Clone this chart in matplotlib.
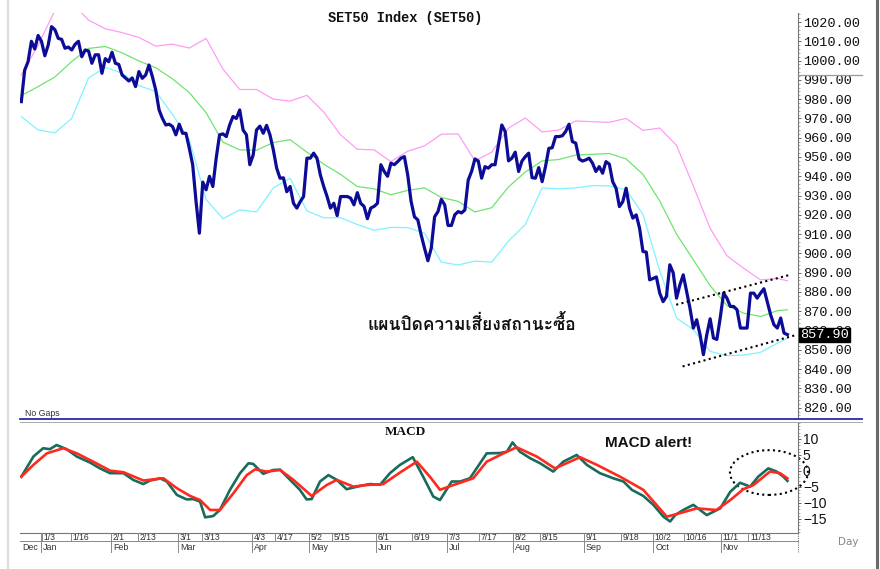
import numpy as np
import matplotlib
matplotlib.use("Agg")
import matplotlib.pyplot as plt
from matplotlib.lines import Line2D
from matplotlib.patches import Ellipse
from matplotlib.ticker import MultipleLocator, FormatStrFormatter
from matplotlib import font_manager as fm
from matplotlib.ft2font import FT2Font

# ---------------- data ----------------
price = [
    978.7, 995, 999.4, 1010, 1006, 1013, 1010, 1002.5, 1008, 1017.6, 1016, 1011.5, 1011, 1006.4, 1007,
    1005.5, 1008.4, 1010, 1002, 1005.5, 1005, 998.6, 1003, 1003, 993.4, 1001, 999.4, 1004.3, 998.6, 998,
    992.5, 991, 989.4, 991, 986.5, 994.3, 990.8, 992.5, 997.7, 991.7, 984.8, 974.4, 970, 966.6, 967,
    965.8, 961.5, 967, 962.3, 962.3, 954.5, 946, 927, 910.5, 937, 933, 940, 934.7,
    949.4, 961.5, 962, 960.6, 966.6, 971, 970, 974.4, 964, 961.5, 946, 951, 964, 966, 962.3,
    966.4, 961.5, 953.7, 944.2, 939, 939.2, 932, 934.7, 926, 923.5, 926.8, 929.5, 949.4, 949.4, 952,
    949.4, 940.7, 934.7, 929.5, 923.5, 926, 919.6, 929.5, 929.5, 929.5, 928.7, 925.2, 931.5, 926, 924.4,
    918, 923.5, 924.4, 926, 946, 942.5, 940, 946.8, 946, 947.6, 949.4, 950.2,
    940.7, 927, 919, 917.4, 909.6, 902.7, 896.2, 902.7, 919, 921.7, 928, 925.2, 914.5, 914.5, 920,
    921.7, 921, 922.5, 938, 942.5, 949, 947.9, 939, 945, 944.2, 946, 946, 956.3, 966.6, 963.2,
    948, 949.4, 952.5, 942.5, 947.9, 950.2, 952, 939.3, 939, 944.5, 937.2, 945, 954.5, 954.8, 960.6,
    960.6, 961, 963.2, 967, 958, 957.2, 949, 947.9, 948.5, 949.4,
    946.8, 942.5, 945, 941.6, 947.6, 946.3, 937.2, 933.8, 924.3, 926.8, 933.8, 923.5, 918.3, 920, 913.1,
    901, 900.7, 886.3, 887, 887.8, 879.4, 875, 877.7, 894.1, 890, 876.8, 883.7, 888.9, 880.3, 871.6,
    861.3, 865.6, 857.8, 847.5, 857.8, 866.1, 856.1, 855.4, 866.5, 879.4, 876.8, 872.5, 872.5, 870.8, 861.3,
    861.3, 861.3, 879.4, 879.4, 876.8, 879.4, 881.7, 875, 868.2, 863, 861.3, 866.5, 858.7, 857.9,
]

# Bollinger bands read every 5 sessions (plus the last session)
band_step = 5
upper_band = [992.5, 1008, 1026, 1030, 1021, 1016.5, 1014.5, 1012, 1007.5, 1008.5, 1006.5, 1011.5, 995.6,
              985, 985, 980, 979, 982, 973.3, 961.5, 954, 953.7, 947.6, 953, 955.8, 961.8, 962, 948,
              952.5, 965, 970.2, 963, 964, 968.7, 968.3, 968, 970, 963.8, 965, 956, 935, 913, 898.8,
              892.3, 886.3, 887, 885.8]
middle_band = [981.8, 986.5, 991.5, 999.5, 1006.3, 1007.3, 1004, 999.8, 996.3, 990.5, 983.4, 973, 957.7,
               953.7, 953.5, 957.5, 959, 952.5, 946.3, 941, 934.7, 933.5, 930.4, 932.7, 934, 929, 927,
               921.5, 923.7, 934.5, 942.2, 948, 948.7, 951, 951.4, 951.8, 949, 941, 927.2, 910, 896.7,
               883.3, 873, 869, 867.3, 870.3, 870.8]
lower_band = [971, 964, 962.5, 970, 991, 996.5, 993.5, 987, 984, 972, 959, 928, 918, 922.6, 921.5, 934,
              939, 922, 918.5, 918.5, 915, 912, 913.5, 913.4, 910.5, 895.5, 894, 896, 895.5, 906.4, 915,
              934, 933.5, 934, 935.2, 935, 933, 920.3, 891, 866.5, 860.5, 849.2, 847, 847.3, 848.7,
              853.5, 856]

# MACD (session index, value) read at the turning points of each line
macd_x = [0, 3.6, 6.5, 8.5, 10.5, 13.5, 16.5, 20.5, 23.4, 26.4, 30.4, 33.3, 36.3, 38.3, 41.3, 43.3,
          46.3, 49.2, 51.2, 53.2, 54.7, 57.1, 59.1, 62.1, 65.1, 67.6, 69.0, 72.0, 75.0, 77.0, 80.0,
          82.9, 84.9, 86.4, 88.9, 91.4, 93.9, 96.8, 100.8, 103.8, 106.8, 109.7, 112.7, 116.5, 119.6,
          122.6, 124.6, 128.1, 130.6, 133.5, 135.5, 138.5, 142.5, 144.5, 146.2, 148.4, 151.4, 154.4,
          158.3, 161.3, 165.3, 168.3, 172.2, 176.2, 179.2, 181.7, 185.1, 188.1, 191.1, 193.1, 194.6,
          197.0, 200.0, 202.0, 204.0, 208.0, 211.0, 213.9, 216.9, 219.3, 222.3, 224.8, 226.8, 228]
macd_line = [-1.8, 4.5, 7.1, 6.8, 8.1, 6.8, 4.5, 2.6, 0.8, -0.7, -0.7, -2.8, -4.1, -3.0, -2.3, -3.3,
             -7.5, -8.9, -8.8, -9.6, -14.5, -14.1, -12.2, -5.9, -0.7, 2.4, 2.2, -0.9, 0.3, 0.4, -2.8,
             -5.9, -8.9, -8.8, -3.3, -1.3, -2.8, -5.7, -4.7, -4.1, -4.3, -0.7, 1.9, 4.3, -1.8,
             -8.0, -9.1, -3.3, -3.3, -2.3, 0.8, 5.5, 5.6, 6.0, 8.9, 6.0, 4.0, 2.4,
             -0.2, 2.9, 5.0, 1.9, -0.7, -2.3, -3.3, -5.9, -7.8, -10.6, -14.3, -15.8, -13.8,
             -12.2, -10.6, -12.2, -13.8, -11.7, -6.5, -3.7, -4.9, -1.8, 0.8, -0.2, -1.8, -3.1]
signal_x = [0, 3.6, 7.6, 12.5, 16.5, 21.4, 26.4, 30.4, 36.3, 42.3, 46.3, 50.2, 53.2, 56.2, 59.1, 63.1,
            67.1, 69.6, 73.0, 77.0, 81.0, 86.4, 90.9, 93.9, 98.8, 102.8, 107.7, 112.7, 117.7, 121.6,
            124.6, 128.6, 134.5, 138.5, 143.5, 147.4, 153.4, 158.8, 166.3, 171.3, 178.2, 185.1, 192.1,
            196.0, 201.0, 206.9, 211.0, 214.9, 217.9, 222.8, 225.8, 228]
signal_line = [-1.8, 1.9, 5.5, 7.1, 5.5, 2.9, 0.1, -0.4, -3.0, -2.3, -5.4, -7.8, -9.1, -12.2, -12.2, -7.0,
               -1.3, 0.5, -0.2, 0.3, -2.8, -7.8, -4.4, -2.8, -4.9, -4.4, -4.1, -0.5, 2.9, -1.8,
               -5.9, -4.4, -2.3, 2.9, 5.5, 7.4, 4.5, 0.8, 4.3, 1.9, -1.8, -5.9, -14.3,
               -13.2, -11.7, -12.2, -9.1, -5.7, -4.4, -0.2, -0.7, -2.3]

day_labels = ["1/3", "1/16", "2/1", "2/13", "3/1", "3/13", "4/3", "4/17", "5/2", "5/15", "6/1", "6/19",
              "7/3", "7/17", "8/2", "8/15", "9/1", "9/18", "10/2", "10/16", "11/1", "11/13"]
day_pos = [6.1, 14.8, 26.7, 34.6, 46.7, 53.7, 68.6, 75.5, 85.6, 92.4, 105.6, 116.4,
           126.6, 136.3, 146.4, 154.4, 167.5, 178.5, 188.1, 197.3, 208.2, 216.4]
month_labels = ["Dec", "Jan", "Feb", "Mar", "Apr", "May", "Jun", "Jul", "Aug", "Sep", "Oct", "Nov"]
month_pos = [-0.4, 5.8, 26.7, 46.7, 68.6, 85.6, 105.6, 126.6, 146.4, 167.5, 188.1, 208.2]

price_ticks = list(range(820, 1021, 10))
macd_ticks = [10, 5, 0, -5, -10, -15]
last_price = 857.90
channel_upper = [(194.9, 873.4), (228.8, 888.9)]
channel_lower = [(196.8, 841.4), (230.8, 857.8)]
title_text = "SET50 Index (SET50)"
thai_note = "แผนปิดความเสี่ยงสถานะซื้อ"
macd_note = "MACD alert!"

# ---------------- fonts ----------------
def find_family(text, fallback="DejaVu Sans"):
    need = {ord(c) for c in text if not c.isspace()}
    names = []
    for f in fm.fontManager.ttflist:
        try:
            cmap = FT2Font(f.fname).get_charmap()
        except Exception:
            continue
        if need.issubset(cmap.keys()):
            names.append(f.name)
    return names[0] if names else fallback

thai_family = find_family(thai_note)
MONO = "Liberation Mono"
SANS = "Liberation Sans"

# ---------------- figure ----------------
W, H = 880, 569
fig = plt.figure(figsize=(W / 100, H / 100), dpi=100)
fig.patch.set_facecolor("white")

def fx(x):
    return x / W

def fy(y):
    return 1 - y / H

n = len(price)
x = np.arange(n)
band_x = list(range(0, n, band_step))
if band_x[-1] != n - 1:
    band_x.append(n - 1)
band_x = np.array(band_x)
xlim = (-0.39, 231.15)

# price panel
axp = fig.add_axes([fx(20), fy(418), (798 - 20) / W, (418 - 13) / H])
axp.set_xlim(*xlim)
axp.set_ylim(814.66, 1024.67)
axp.plot(band_x, upper_band, color="#ff9cf5", lw=0.9)
axp.plot(band_x, middle_band, color="#6fe46f", lw=0.9)
axp.plot(band_x, lower_band, color="#7ff3ff", lw=0.9)
axp.plot(x, price, color="#0c0c96", lw=2.3, solid_joinstyle="round")
for seg in (channel_upper, channel_lower):
    axp.plot([seg[0][0], seg[1][0]], [seg[0][1], seg[1][1]], color="black", lw=1.5,
             linestyle=(0, (1, 1.6)), clip_on=False)
for s in ("top", "left", "bottom"):
    axp.spines[s].set_visible(False)
axp.spines["right"].set_linestyle((0, (1, 1)))
axp.spines["right"].set_color("#777777")
axp.spines["right"].set_linewidth(0.8)
axp.yaxis.tick_right()
axp.set_yticks(price_ticks)
axp.yaxis.set_major_formatter(FormatStrFormatter("%.2f"))
axp.yaxis.set_minor_locator(MultipleLocator(2))
axp.tick_params(axis="y", which="major", length=2.5, width=0.7, color="#666666", pad=1,
                labelsize=9.7, labelcolor="#111111")
axp.tick_params(axis="y", which="minor", length=1.3, width=0.5, color="#888888")
for lab in axp.get_yticklabels():
    lab.set_fontfamily(MONO)
axp.set_xticks([])
axp.text(1.003, last_price, f"{last_price:.2f}", transform=axp.get_yaxis_transform(),
         ha="left", va="center", fontsize=9.7, family=MONO, color="white", zorder=10,
         clip_on=False, bbox=dict(boxstyle="square,pad=0.08", fc="black", ec="black"))

# MACD panel
axm = fig.add_axes([fx(20), fy(533), (798 - 20) / W, (533 - 422) / H])
axm.set_xlim(*xlim)
axm.set_ylim(-19.4, 15.3)
axm.plot(macd_x, macd_line, color="#186c5c", lw=1.9, solid_joinstyle="round")
axm.plot(signal_x, signal_line, color="#ff2a1f", lw=1.9, solid_joinstyle="round")
ell = Ellipse((222.5, -0.5), 23.2, 14, fill=False, ec="black", lw=1.5,
              linestyle=(0, (1, 1.6)), clip_on=False)
axm.add_patch(ell)
for s in ("top", "left", "bottom"):
    axm.spines[s].set_visible(False)
axm.spines["right"].set_linestyle((0, (1, 1)))
axm.spines["right"].set_color("#777777")
axm.spines["right"].set_linewidth(0.8)
axm.yaxis.tick_right()
axm.set_yticks(macd_ticks)
axm.yaxis.set_minor_locator(MultipleLocator(1))
axm.tick_params(axis="y", which="major", length=2.5, width=0.7, color="#666666", pad=1,
                labelsize=10, labelcolor="#111111")
axm.tick_params(axis="y", which="minor", length=1.3, width=0.5, color="#888888")
for lab in axm.get_yticklabels():
    lab.set_fontfamily(SANS)
axm.set_xticks([])

# date strip
axd = fig.add_axes([fx(20), fy(553), (798 - 20) / W, 20 / H])
axd.set_xlim(*xlim)
axd.set_ylim(20, 0)
axd.axis("off")
axd.plot(xlim, [0.3, 0.3], color="#777777", lw=0.8, clip_on=False)
axd.plot(xlim, [7.7, 7.7], color="#888888", lw=0.7, clip_on=False)
axd.vlines(day_pos, 0.3, 7.7, color="#888888", lw=0.7)
axd.vlines(month_pos[1:], 0.3, 20, color="#888888", lw=0.7)
axd.plot([xlim[1], xlim[1]], [0, 20], color="#777777", lw=0.8, linestyle=(0, (1, 1)), clip_on=False)
for lbl, p in zip(day_labels, day_pos):
    axd.text(p + 0.45, 4.3, lbl, fontsize=6.2, family=SANS, color="#333333", ha="left", va="center")
for lbl, p in zip(month_labels, month_pos):
    axd.text(p + 0.55, 15.0, lbl, fontsize=6.4, family=SANS, color="#333333", ha="left", va="center")

# ---------------- decorations / texts ----------------
fig.text(fx(405), fy(18), title_text, family=MONO, fontsize=9.8, ha="center", va="center",
         color="#111111", fontweight="bold")
fig.text(fx(472), fy(323), thai_note, family=[thai_family, "DejaVu Sans"], fontsize=12.5,
         fontweight="bold", ha="center", va="center", color="#111111")
fig.text(fx(405), fy(432), "MACD", family="Liberation Serif", fontsize=9.5, fontweight="bold",
         ha="center", va="center", color="#111111")
fig.text(fx(649), fy(443), macd_note, family=SANS, fontsize=11, fontweight="bold",
         ha="center", va="center", color="#111111")
fig.text(fx(25), fy(413), "No Gaps", family=SANS, fontsize=6.3, ha="left", va="center",
         color="#333333")
fig.text(fx(848), fy(542), "Day", family="DejaVu Sans", fontsize=7.5, ha="center", va="center",
         color="#888888")

# frame lines
fig.add_artist(Line2D([fx(20), fx(862)], [fy(418.5), fy(418.5)], color="#2a2aa8", lw=1.3))
fig.add_artist(Line2D([fx(20), fx(862)], [fy(421.5), fy(421.5)], color="#aaaaaa", lw=0.7))
fig.add_artist(Line2D([fx(798), fx(862)], [fy(75), fy(75)], color="#999999", lw=0.9))
fig.add_artist(Line2D([fx(7.5), fx(7.5)], [0, 1], color="#dddddd", lw=1.6))
fig.add_artist(Line2D([fx(877), fx(877)], [0, 1], color="#6a6a6a", lw=2.2))

fig.savefig("out.png", dpi=100, facecolor="white")
